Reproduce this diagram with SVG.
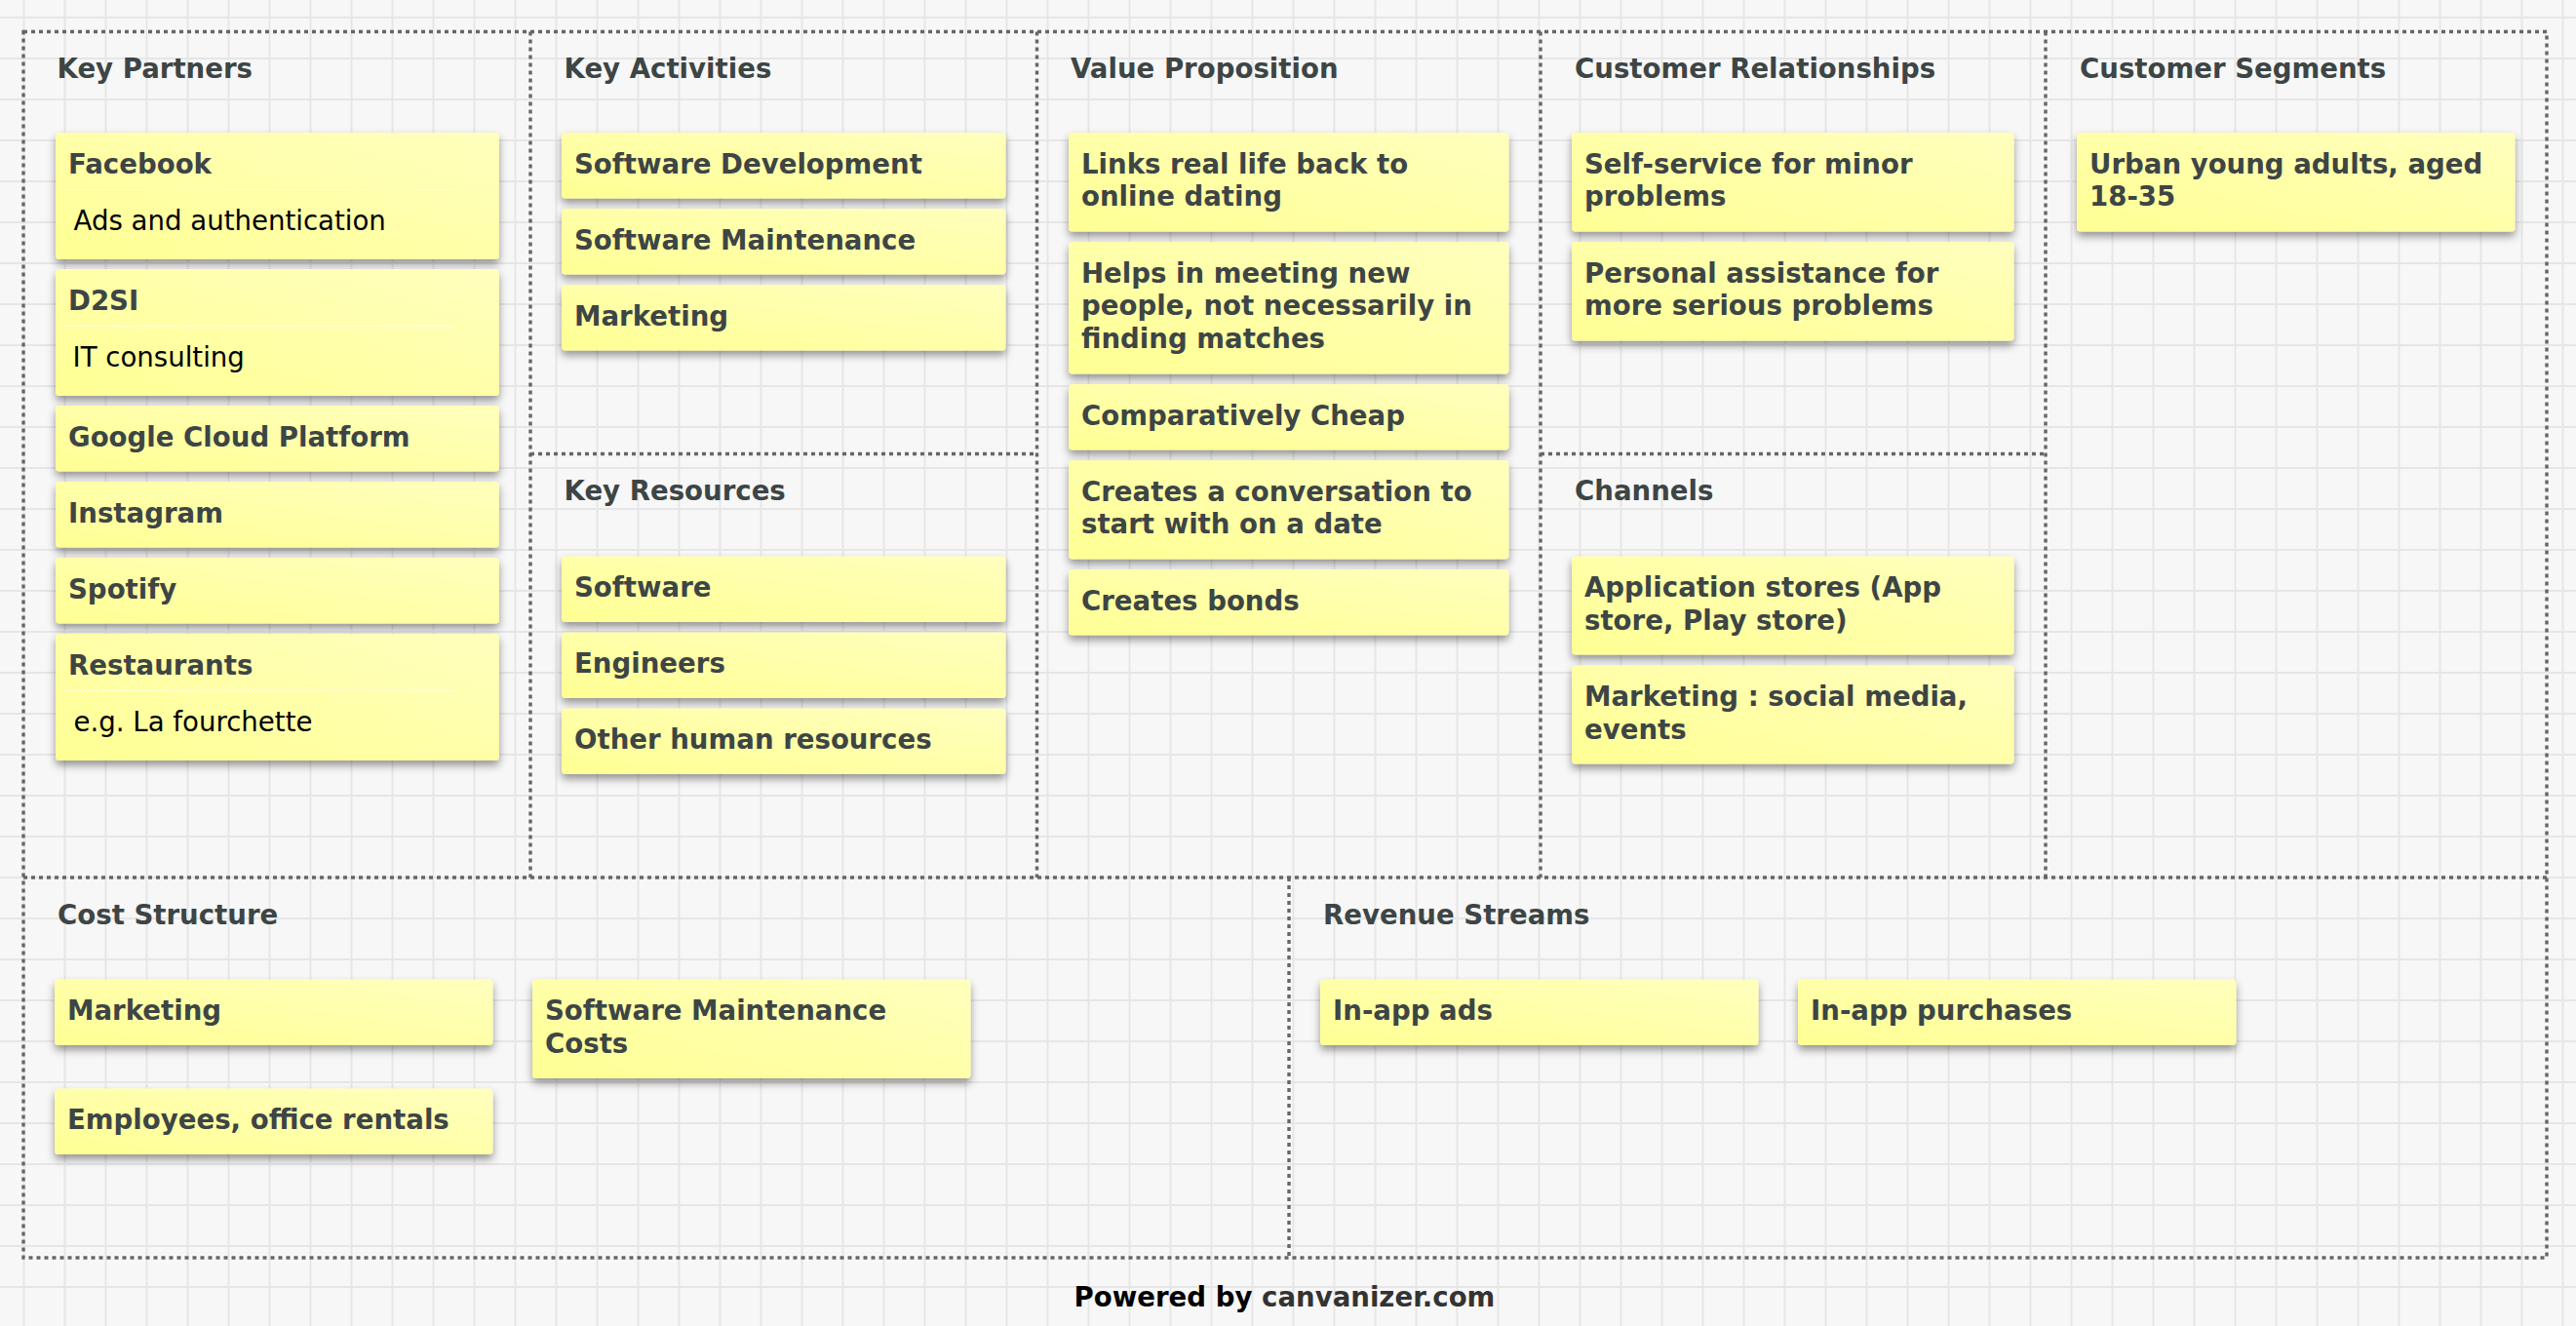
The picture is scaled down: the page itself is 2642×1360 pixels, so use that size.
<svg xmlns="http://www.w3.org/2000/svg" width="2642" height="1360" viewBox="0 0 2642 1360">
<defs>
<pattern id="grid" patternUnits="userSpaceOnUse" x="3.5" y="-3" width="42" height="42">
<rect x="0" y="0" width="42" height="42" fill="#f7f7f7"/>
<rect x="20" y="0" width="2" height="42" fill="#e6e6e6"/>
<rect x="0" y="20" width="42" height="2" fill="#e6e6e6"/>
</pattern>
<linearGradient id="cardGrad" x1="0" y1="1" x2="1" y2="0">
<stop offset="0" stop-color="#ffff94"/>
<stop offset="1" stop-color="#ffffbe"/>
</linearGradient>
<filter id="shadow" x="-5%" y="-10%" width="110%" height="140%">
<feDropShadow dx="0" dy="5" stdDeviation="4" flood-color="#000" flood-opacity="0.4"/>
</filter>
</defs>
<style>
.card{fill:url(#cardGrad);filter:url(#shadow)}
.hd{font-family:"DejaVu Sans",Verdana,sans-serif;font-weight:bold;font-size:27.6px;fill:#3d4545}
.bd{font-family:"DejaVu Sans",Verdana,sans-serif;font-size:27.6px;fill:#000}
.title{font-family:"DejaVu Sans",Verdana,sans-serif;font-weight:bold;font-size:27.6px;fill:#3d4545}
.frame{stroke:#666;stroke-width:3.4;stroke-dasharray:4 4;fill:none}
.sep{stroke:#fff;stroke-width:1.2;stroke-dasharray:2 2;fill:none}
</style>
<rect x="0" y="0" width="2642" height="1360" fill="url(#grid)"/>

<g id="frame">
<rect class="frame" x="24" y="32.5" width="2588" height="1257.5"/>
<line class="frame" x1="544" y1="32.5" x2="544" y2="900"/>
<line class="frame" x1="1063.5" y1="32.5" x2="1063.5" y2="900"/>
<line class="frame" x1="1580" y1="32.5" x2="1580" y2="900"/>
<line class="frame" x1="2098" y1="32.5" x2="2098" y2="900"/>
<line class="frame" x1="24" y1="900" x2="2612" y2="900"/>
<line class="frame" x1="544" y1="465.5" x2="1063.5" y2="465.5"/>
<line class="frame" x1="1580" y1="465.5" x2="2098" y2="465.5"/>
<line class="frame" x1="1322" y1="900" x2="1322" y2="1290"/>
</g>

<g id="connectors"></g>

<g id="key-partners">
<text class="title" x="58.5" y="80">Key Partners</text>
<g id="kp-facebook">
<rect class="card" x="57" y="136" width="455" height="130" rx="4"/>
<text class="hd" x="70" y="178">Facebook</text>
<line class="sep" x1="66" y1="194.5" x2="466" y2="194.5"/>
<text class="bd" x="75.5" y="236">Ads and authentication</text>
</g>
<g id="kp-d2si">
<rect class="card" x="57" y="276" width="455" height="130" rx="4"/>
<text class="hd" x="70" y="318">D2SI</text>
<line class="sep" x1="66" y1="334.5" x2="466" y2="334.5"/>
<text class="bd" x="74.5" y="376">IT consulting</text>
</g>
<g id="kp-gcp">
<rect class="card" x="57" y="416" width="455" height="67.5" rx="4"/>
<text class="hd" x="70" y="457.5">Google Cloud Platform</text>
</g>
<g id="kp-instagram">
<rect class="card" x="57" y="494" width="455" height="67.5" rx="4"/>
<text class="hd" x="70" y="535.5">Instagram</text>
</g>
<g id="kp-spotify">
<rect class="card" x="57" y="572" width="455" height="67.5" rx="4"/>
<text class="hd" x="70" y="613.5">Spotify</text>
</g>
<g id="kp-restaurants">
<rect class="card" x="57" y="650" width="455" height="130" rx="4"/>
<text class="hd" x="70" y="692">Restaurants</text>
<line class="sep" x1="66" y1="708.5" x2="466" y2="708.5"/>
<text class="bd" x="75.5" y="750">e.g. La fourchette</text>
</g>
</g>

<g id="key-activities">
<text class="title" x="578.5" y="80">Key Activities</text>
<g id="ka-dev">
<rect class="card" x="576" y="136" width="455.5" height="67.5" rx="4"/>
<text class="hd" x="589" y="177.5">Software Development</text>
</g>
<g id="ka-maint">
<rect class="card" x="576" y="214" width="455.5" height="67.5" rx="4"/>
<text class="hd" x="589" y="255.5">Software Maintenance</text>
</g>
<g id="ka-marketing">
<rect class="card" x="576" y="292" width="455.5" height="67.5" rx="4"/>
<text class="hd" x="589" y="333.5">Marketing</text>
</g>
</g>

<g id="key-resources">
<text class="title" x="578.5" y="513">Key Resources</text>
<g id="kr-software">
<rect class="card" x="576" y="570.5" width="455.5" height="67.5" rx="4"/>
<text class="hd" x="589" y="612">Software</text>
</g>
<g id="kr-engineers">
<rect class="card" x="576" y="648.5" width="455.5" height="67.5" rx="4"/>
<text class="hd" x="589" y="690">Engineers</text>
</g>
<g id="kr-other">
<rect class="card" x="576" y="726.5" width="455.5" height="67.5" rx="4"/>
<text class="hd" x="589" y="768">Other human resources</text>
</g>
</g>

<g id="value-proposition">
<text class="title" x="1098" y="80">Value Proposition</text>
<g id="vp-links">
<rect class="card" x="1096" y="136" width="451.5" height="101.5" rx="4"/>
<text class="hd" x="1109" y="177.5">Links real life back to</text>
<text class="hd" x="1109" y="211">online dating</text>
</g>
<g id="vp-helps">
<rect class="card" x="1096" y="248" width="451.5" height="135.5" rx="4"/>
<text class="hd" x="1109" y="289.5">Helps in meeting new</text>
<text class="hd" x="1109" y="323">people, not necessarily in</text>
<text class="hd" x="1109" y="356.5">finding matches</text>
</g>
<g id="vp-cheap">
<rect class="card" x="1096" y="394" width="451.5" height="67.5" rx="4"/>
<text class="hd" x="1109" y="435.5">Comparatively Cheap</text>
</g>
<g id="vp-conversation">
<rect class="card" x="1096" y="472" width="451.5" height="101.5" rx="4"/>
<text class="hd" x="1109" y="513.5">Creates a conversation to</text>
<text class="hd" x="1109" y="547">start with on a date</text>
</g>
<g id="vp-bonds">
<rect class="card" x="1096" y="584" width="451.5" height="67.5" rx="4"/>
<text class="hd" x="1109" y="625.5">Creates bonds</text>
</g>
</g>

<g id="customer-relationships">
<text class="title" x="1615" y="80">Customer Relationships</text>
<g id="cr-self">
<rect class="card" x="1612" y="136" width="453.5" height="101.5" rx="4"/>
<text class="hd" x="1625" y="177.5">Self-service for minor</text>
<text class="hd" x="1625" y="211">problems</text>
</g>
<g id="cr-personal">
<rect class="card" x="1612" y="248" width="453.5" height="101.5" rx="4"/>
<text class="hd" x="1625" y="289.5">Personal assistance for</text>
<text class="hd" x="1625" y="323">more serious problems</text>
</g>
</g>

<g id="channels">
<text class="title" x="1615" y="513">Channels</text>
<g id="ch-stores">
<rect class="card" x="1612" y="570.5" width="453.5" height="101" rx="4"/>
<text class="hd" x="1625" y="612">Application stores (App</text>
<text class="hd" x="1625" y="645.5">store, Play store)</text>
</g>
<g id="ch-marketing">
<rect class="card" x="1612" y="682.5" width="453.5" height="101" rx="4"/>
<text class="hd" x="1625" y="724">Marketing : social media,</text>
<text class="hd" x="1625" y="757.5">events</text>
</g>
</g>

<g id="customer-segments">
<text class="title" x="2133" y="80">Customer Segments</text>
<g id="cs-urban">
<rect class="card" x="2130" y="136" width="449.5" height="101.5" rx="4"/>
<text class="hd" x="2143" y="177.5">Urban young adults, aged</text>
<text class="hd" x="2143" y="211">18-35</text>
</g>
</g>

<g id="cost-structure">
<text class="title" x="59" y="948">Cost Structure</text>
<g id="cost-marketing">
<rect class="card" x="56" y="1004.5" width="449.5" height="67.5" rx="4"/>
<text class="hd" x="69" y="1046">Marketing</text>
</g>
<g id="cost-maintenance">
<rect class="card" x="546" y="1004.5" width="449.5" height="101.5" rx="4"/>
<text class="hd" x="559" y="1046">Software Maintenance</text>
<text class="hd" x="559" y="1079.5">Costs</text>
</g>
<g id="cost-employees">
<rect class="card" x="56" y="1116.5" width="449.5" height="67.5" rx="4"/>
<text class="hd" x="69" y="1158">Employees, office rentals</text>
</g>
</g>

<g id="revenue-streams">
<text class="title" x="1357" y="948">Revenue Streams</text>
<g id="rev-ads">
<rect class="card" x="1354" y="1004.5" width="449.5" height="67.5" rx="4"/>
<text class="hd" x="1367" y="1046">In-app ads</text>
</g>
<g id="rev-purchases">
<rect class="card" x="1844" y="1004.5" width="449.5" height="67.5" rx="4"/>
<text class="hd" x="1857" y="1046">In-app purchases</text>
</g>
</g>

<g id="footer">
<text x="1317.5" y="1340" text-anchor="middle" style="font-family:'DejaVu Sans',Verdana,sans-serif;font-weight:bold;font-size:27.6px"><tspan fill="#000">Powered by </tspan><tspan fill="#333">canvanizer.com</tspan></text>
</g>
</svg>
